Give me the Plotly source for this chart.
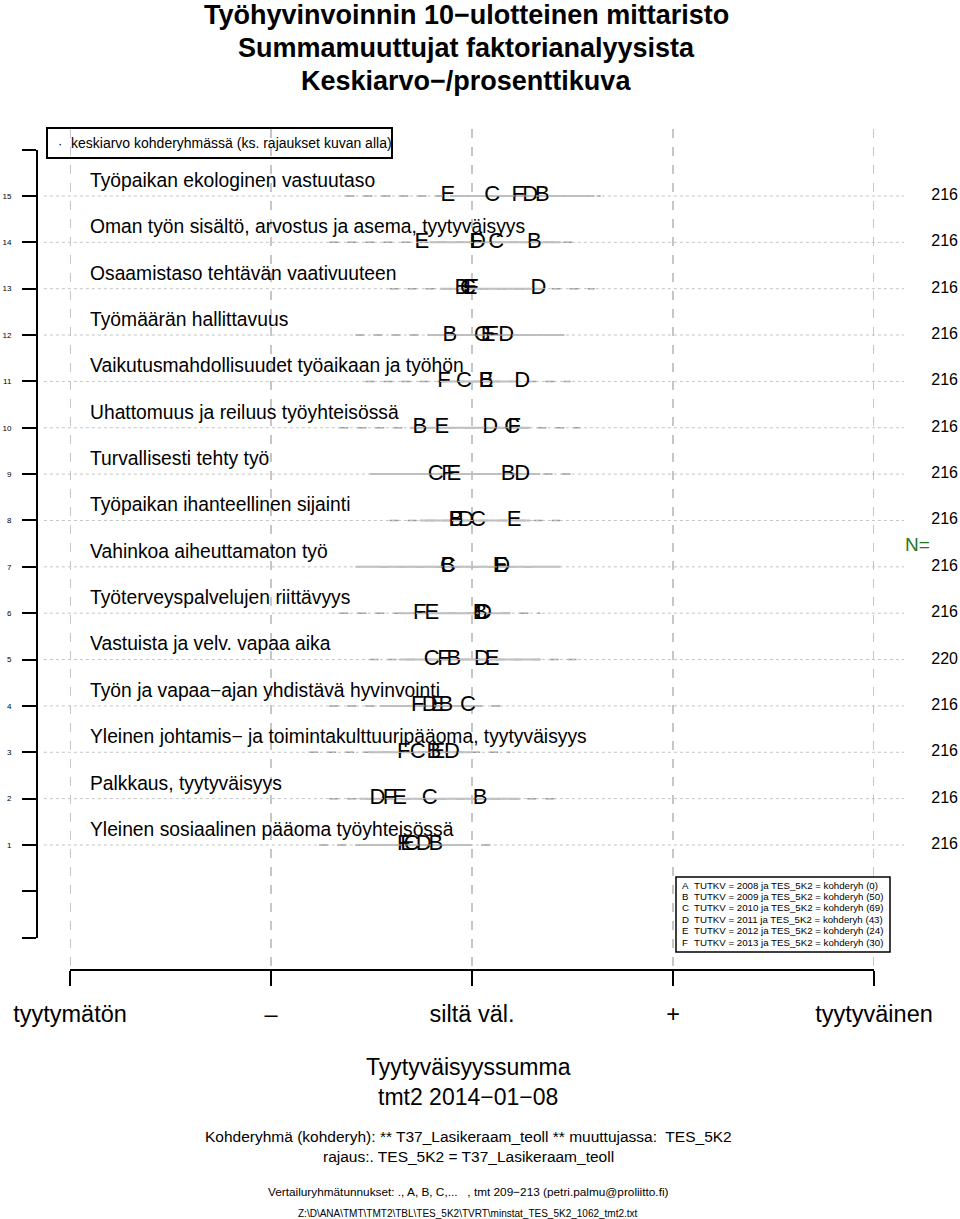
import plotly.graph_objects as go

W, H = 960, 1219
FONT = "Liberation Sans, Arial, Helvetica, sans-serif"

# ---------------- data ----------------
titles = ["Työhyvinvoinnin 10−ulotteinen mittaristo",
          "Summamuuttujat faktorianalyysista",
          "Keskiarvo−/prosenttikuva"]

rows = list(range(1, 16))
categories = [
    "Yleinen sosiaalinen pääoma työyhteisössä",
    "Palkkaus, tyytyväisyys",
    "Yleinen johtamis− ja toimintakulttuuripääoma, tyytyväisyys",
    "Työn ja vapaa−ajan yhdistävä hyvinvointi",
    "Vastuista ja velv. vapaa aika",
    "Työterveyspalvelujen riittävyys",
    "Vahinkoa aiheuttamaton työ",
    "Työpaikan ihanteellinen sijainti",
    "Turvallisesti tehty työ",
    "Uhattomuus ja reiluus työyhteisössä",
    "Vaikutusmahdollisuudet työaikaan ja työhön",
    "Työmäärän hallittavuus",
    "Osaamistaso tehtävän vaativuuteen",
    "Oman työn sisältö, arvostus ja asema, tyytyväisyys",
    "Työpaikan ekologinen vastuutaso",
]
counts = [216, 216, 216, 216, 220, 216, 216, 216, 216, 216, 216, 216, 216, 216, 216]

groups = ["B", "C", "D", "E", "F"]
mean_B = [2.82, 3.04, 2.81, 2.87, 2.91, 3.04, 2.88, 2.92, 3.18, 2.74, 3.07, 2.89, 2.95, 3.31, 3.35]
mean_C = [2.70, 2.79, 2.73, 2.98, 2.80, 3.05, 2.88, 3.03, 2.82, 3.20, 2.96, 3.05, 2.98, 3.12, 3.10]
mean_D = [2.76, 2.53, 2.90, 2.79, 3.05, 3.06, 3.15, 2.97, 3.25, 3.09, 3.25, 3.17, 3.33, 3.03, 3.29]
mean_E = [2.68, 2.64, 2.83, 2.83, 3.10, 2.80, 3.14, 3.21, 2.91, 2.85, 3.07, 3.08, 2.99, 2.75, 2.88]
mean_F = [2.66, 2.59, 2.66, 2.73, 2.86, 2.74, 3.14, 2.92, 2.88, 3.21, 2.86, 3.10, 3.00, 3.02, 3.23]
means = [mean_B, mean_C, mean_D, mean_E, mean_F]

# interval lines (dashed and solid) per row
dash_lo = [2.24, 2.29, 2.19, 2.29, 2.49, 2.34, 2.54, 2.59, 2.64, 2.34, 2.47, 2.42, 2.59, 2.29, 2.37]
dash_hi = [3.11, 3.44, 3.19, 3.16, 3.54, 3.34, 3.34, 3.44, 3.49, 3.54, 3.49, 3.46, 3.61, 3.53, 3.64]
solid_lo = [2.44, 2.44, 2.49, 2.54, 2.64, 2.64, 2.42, 2.74, 2.49, 2.69, 2.84, 2.79, 2.84, 2.79, 2.89]
solid_hi = [3.00, 3.24, 3.00, 3.04, 3.34, 3.19, 3.44, 3.29, 3.34, 3.29, 3.21, 3.46, 3.36, 3.44, 3.61]

scale_vals = [1, 2, 3, 4, 5]
scale_labels = ["tyytymätön", "–", "siltä väl.", "+", "tyytyväinen"]

y_ticks = list(range(-1, 17))
y_ticktext = [str(v) if 1 <= v <= 15 else "" for v in y_ticks]

legend_groups = ["A", "B", "C", "D", "E", "F"]
legend_years = [2008, 2009, 2010, 2011, 2012, 2013]
legend_n = [0, 50, 69, 43, 24, 30]

footer = [
    ("Tyytyväisyyssumma", 1067, 23),
    ("tmt2 2014−01−08", 1097, 23),
    ("Kohderyhmä (kohderyh): ** T37_Lasikeraam_teoll ** muuttujassa:  TES_5K2", 1136, 15.5),
    ("rajaus:. TES_5K2 = T37_Lasikeraam_teoll", 1156, 15.5),
    ("Vertailuryhmätunnukset: ., A, B, C,...   , tmt 209−213 (petri.palmu@proliitto.fi)", 1192, 11.8),
    ("Z:\\D\\ANA\\TMT\\TMT2\\TBL\\TES_5K2\\TVRT\\minstat_TES_5K2_1062_tmt2.txt", 1213, 10),
]

# ---------------- layout geometry (pixels) ----------------
X_PX1, X_UNIT = 70, 201.0     # pixel of value 1, pixels per unit
Y_PX1, Y_UNIT = 845, 46.36    # pixel of row 1, pixels per row


def px(x):
    return x / W


def py(y):
    return 1 - y / H


x2_range = [1 - X_PX1 / X_UNIT, 1 + (W - X_PX1) / X_UNIT]
y2_range = [1 - (H - Y_PX1) / Y_UNIT, 1 + Y_PX1 / Y_UNIT]

fig = go.Figure()

# dotted row guide lines (full width overlay axes)
xs, ys = [], []
for r in rows:
    xs += [0.87, 5.15, None]
    ys += [r, r, None]
fig.add_trace(go.Scatter(x=xs, y=ys, xaxis="x2", yaxis="y2", mode="lines",
                         line=dict(color="#c4c4c4", width=1, dash="dot"),
                         hoverinfo="skip", showlegend=False))

# dashed interval lines
xs, ys = [], []
for r, a, b in zip(rows, dash_lo, dash_hi):
    xs += [a, b, None]
    ys += [r, r, None]
fig.add_trace(go.Scatter(x=xs, y=ys, mode="lines",
                         line=dict(color="#9a9a9a", width=1.5, dash="dash"),
                         hoverinfo="skip", showlegend=False))

# solid interval lines
xs, ys = [], []
for r, a, b in zip(rows, solid_lo, solid_hi):
    xs += [a, b, None]
    ys += [r, r, None]
fig.add_trace(go.Scatter(x=xs, y=ys, mode="lines",
                         line=dict(color="#bdbdbd", width=2),
                         hoverinfo="skip", showlegend=False))

# group letters
for g, vals in zip(groups, means):
    fig.add_trace(go.Scatter(x=vals, y=rows, mode="text", text=[g] * len(rows),
                             textposition="middle center", cliponaxis=False,
                             textfont=dict(family=FONT, size=22, color="black"),
                             hoverinfo="skip", showlegend=False))

# category labels
fig.add_trace(go.Scatter(x=[1 + (90 - X_PX1) / X_UNIT] * len(rows),
                         y=[r + 0.30 for r in rows], xaxis="x2", yaxis="y2",
                         mode="text", text=categories, textposition="middle right",
                         textfont=dict(family=FONT, size=19.3, color="black"),
                         cliponaxis=False, hoverinfo="skip", showlegend=False))

# counts
fig.add_trace(go.Scatter(x=[1 + (958 - X_PX1) / X_UNIT] * len(rows), y=rows,
                         xaxis="x2", yaxis="y2", mode="text",
                         text=[str(c) for c in counts], textposition="middle left",
                         textfont=dict(family=FONT, size=16, color="black"),
                         cliponaxis=False, hoverinfo="skip", showlegend=False))

shapes = []
# vertical dashed grid lines
for v in scale_vals:
    shapes.append(dict(type="line", xref="x", yref="paper", x0=v, x1=v,
                       y0=py(966), y1=py(125),
                       line=dict(color="#b4b4b4", width=1.5, dash="dash"), layer="below"))
# top-left legend box
shapes.append(dict(type="rect", xref="paper", yref="paper",
                   x0=px(47), x1=px(392), y0=py(158), y1=py(128),
                   line=dict(color="black", width=2)))
# bottom-right legend box
shapes.append(dict(type="rect", xref="paper", yref="paper",
                   x0=px(676), x1=px(890), y0=py(952), y1=py(877),
                   line=dict(color="black", width=1.5)))

annotations = []
for i, t in enumerate(titles):
    annotations.append(dict(text="<b>" + t + "</b>", x=px(466), y=py(15 + 33 * i),
                            xref="paper", yref="paper", showarrow=False,
                            xanchor="center", yanchor="middle",
                            font=dict(family=FONT, size=27, color="black")))

annotations.append(dict(text="·", x=px(60), y=py(143), xref="paper", yref="paper",
                        showarrow=False, xanchor="center", yanchor="middle",
                        font=dict(family=FONT, size=13, color="black")))
annotations.append(dict(text="keskiarvo kohderyhmässä (ks. rajaukset kuvan alla)",
                        x=px(69), y=py(143), xref="paper", yref="paper",
                        showarrow=False, xanchor="left", yanchor="middle",
                        font=dict(family=FONT, size=14, color="black")))

for i, (g, yr, n) in enumerate(zip(legend_groups, legend_years, legend_n)):
    yy = py(885 + 11.4 * i)
    annotations.append(dict(text=g, x=px(680), y=yy, xref="paper", yref="paper",
                            showarrow=False, xanchor="left", yanchor="middle",
                            font=dict(family=FONT, size=9.7, color="black")))
    annotations.append(dict(text=f"TUTKV = {yr} ja TES_5K2 = kohderyh ({n})",
                            x=px(692), y=yy, xref="paper", yref="paper",
                            showarrow=False, xanchor="left", yanchor="middle",
                            font=dict(family=FONT, size=9.7, color="black")))

annotations.append(dict(text="N=", x=px(917), y=py(545), xref="paper", yref="paper",
                        showarrow=False, xanchor="center", yanchor="middle",
                        font=dict(family=FONT, size=19, color="#1e7a1e")))

for t, yy, s in footer:
    annotations.append(dict(text=t, x=px(468), y=py(yy), xref="paper", yref="paper",
                            showarrow=False, xanchor="center", yanchor="middle",
                            font=dict(family=FONT, size=s, color="black")))

fig.update_layout(
    template="none",
    width=W, height=H, autosize=False,
    margin=dict(l=0, r=0, t=0, b=0, pad=0),
    paper_bgcolor="white", plot_bgcolor="rgba(0,0,0,0)",
    showlegend=False,
    font=dict(family=FONT, color="black"),
    xaxis=dict(domain=[px(X_PX1), px(X_PX1 + 4 * X_UNIT)], range=[1, 5],
               anchor="free", position=py(970), automargin=False,
               showline=True, linecolor="black", linewidth=2, mirror=False,
               ticks="outside", ticklen=15, tickwidth=1.5, tickcolor="black",
               tickvals=scale_vals, ticktext=scale_labels,
               tickfont=dict(family=FONT, size=23.5, color="black"),
               ticklabelstandoff=8,
               showgrid=False, zeroline=False, fixedrange=True),
    yaxis=dict(domain=[py(Y_PX1 + 2 * Y_UNIT), py(Y_PX1 - 15 * Y_UNIT)], range=[-1, 16],
               anchor="free", position=px(37), automargin=False,
               showline=True, linecolor="black", linewidth=2,
               ticks="outside", ticklen=14, tickwidth=2, tickcolor="black",
               tickvals=y_ticks, ticktext=y_ticktext,
               tickfont=dict(family=FONT, size=8, color="black"),
               ticklabelstandoff=9,
               showgrid=False, zeroline=False, fixedrange=True),
    xaxis2=dict(domain=[0, 1], range=x2_range, anchor="y2", visible=False,
                automargin=False, showgrid=False, zeroline=False, fixedrange=True),
    yaxis2=dict(domain=[0, 1], range=y2_range, anchor="x2", visible=False,
                automargin=False, showgrid=False, zeroline=False, fixedrange=True),
    shapes=shapes,
    annotations=annotations,
)

fig.write_html("out.html")
